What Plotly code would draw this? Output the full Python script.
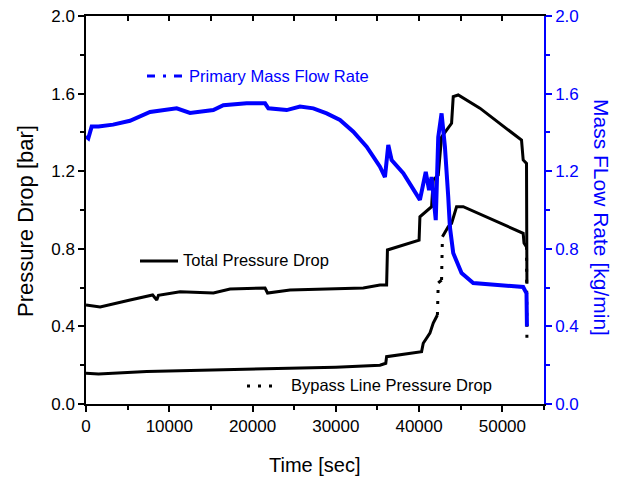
import plotly.graph_objects as go

# ---------------- data ----------------
flow_t = [0, 280, 680, 1500, 3250, 5280, 7690, 10890, 12490, 15290, 16490, 19290,
          21500, 21900, 24100, 25700, 27300, 28900, 30500, 32100, 33700, 35300,
          35900, 36300, 36700, 38100, 40100, 40800, 41200, 41500, 42000, 42300,
          42700, 43100, 43500, 43700, 44100, 45100, 46500, 50000, 52500, 52900, 52950]
flow_q = [1.38, 1.37, 1.43, 1.43, 1.44, 1.46, 1.505, 1.524, 1.50, 1.515, 1.54, 1.55,
          1.55, 1.524, 1.515, 1.533, 1.524, 1.498, 1.464, 1.404, 1.326, 1.223,
          1.17, 1.335, 1.258, 1.19, 1.052, 1.196, 1.103, 1.17, 0.948, 1.376,
          1.498, 1.326, 1.068, 0.912, 0.778, 0.675, 0.624, 0.61, 0.603, 0.57, 0.40]

total_t = [0, 1700, 5300, 8000, 8500, 8700, 11300, 15300, 17300, 21500, 21800,
           24500, 33300, 35300, 36100, 36200, 40000, 40100, 41500, 41700, 42300,
           42700, 43300, 43900, 44100, 44700, 47300, 52300, 52500, 52900, 52950]
total_p = [0.51, 0.50, 0.536, 0.562, 0.536, 0.56, 0.579, 0.572, 0.593, 0.598, 0.572,
           0.588, 0.598, 0.613, 0.613, 0.794, 0.845, 0.965, 1.017, 1.155, 1.18,
           1.376, 1.412, 1.447, 1.584, 1.593, 1.525, 1.36, 1.258, 1.24, 0.62]

bypass_t = [0, 1500, 7300, 15300, 23300, 30000, 35300, 36000, 36100, 40300, 40500,
            41300, 41700, 42200, 42300, 42700, 42800, 43500, 43900, 44500, 45300,
            52500, 52600, 52900, 52950]
bypass_p = [0.158, 0.155, 0.167, 0.175, 0.186, 0.19, 0.20, 0.21, 0.244, 0.27, 0.313,
            0.365, 0.417, 0.459, 0.624, 0.639, 0.862, 0.914, 0.931, 1.017, 1.017,
            0.88, 0.83, 0.81, 0.31]
# segments (index i -> i+1) where recorded points are sparse and appear dotted
bypass_sparse = [13, 15, 23]

x_ticks = [0, 10000, 20000, 30000, 40000, 50000]
x_ticktext = ["0", "10000", "20000", "30000", "40000", "50000"]
y_ticks = [0.0, 0.4, 0.8, 1.2, 1.6, 2.0]
y_ticktext = ["0.0", "0.4", "0.8", "1.2", "1.6", "2.0"]

BLUE = "#0000FF"
FONT = "Liberation Sans, Arial, sans-serif"

# ---------------- geometry helpers (pixels -> paper) ----------------
L, R, T, B = 86, 544, 16, 404
W, H = 622, 482
def px(xp):
    return (xp - L) / (R - L)
def py(yp):
    return (B - yp) / (B - T)

# build bypass solid / dotted pieces from the same arrays
bs_x, bs_y = [], []
for i in range(len(bypass_t)):
    if (i - 1) in bypass_sparse:
        bs_x.append(None); bs_y.append(None)
    bs_x.append(bypass_t[i]); bs_y.append(bypass_p[i])
bd_x, bd_y = [], []
for j in bypass_sparse:
    bd_x += [bypass_t[j], bypass_t[j + 1], None]
    bd_y += [bypass_p[j], bypass_p[j + 1], None]

fig = go.Figure()
fig.add_trace(go.Scatter(x=total_t, y=total_p, mode="lines",
                         line=dict(color="black", width=3), showlegend=False,
                         name="Total Pressure Drop"))
fig.add_trace(go.Scatter(x=bs_x, y=bs_y, mode="lines",
                         line=dict(color="black", width=3), showlegend=False,
                         name="Bypass Line Pressure Drop"))
fig.add_trace(go.Scatter(x=bd_x, y=bd_y, mode="lines",
                         line=dict(color="black", width=3, dash="3px,8px"),
                         showlegend=False, hoverinfo="skip"))
fig.add_trace(go.Scatter(x=flow_t, y=flow_q, mode="lines", yaxis="y2",
                         line=dict(color=BLUE, width=4), showlegend=False,
                         name="Primary Mass Flow Rate"))
# carrier for the inward top ticks
fig.add_trace(go.Scatter(x=[None], y=[None], xaxis="x2", mode="lines",
                         showlegend=False, hoverinfo="skip"))

tickfont = dict(family=FONT, size=17, color="black")
fig.update_layout(
    width=W, height=H,
    margin=dict(l=L, r=W - R, t=T, b=H - B, pad=0, autoexpand=False),
    paper_bgcolor="white", plot_bgcolor="white",
    font=dict(family=FONT),
    xaxis=dict(range=[0, 55000], tickvals=x_ticks, ticktext=x_ticktext,
               ticks="outside", ticklen=6, automargin=False,
               tickwidth=1.5, tickcolor="black",
               minor=dict(ticks="outside", ticklen=4, dtick=5000, tick0=0,
                          tickcolor="black", tickwidth=1.5),
               showline=True, linecolor="black", linewidth=1.5, mirror=True,
               showgrid=False, zeroline=False, tickfont=tickfont),
    xaxis2=dict(range=[0, 55000], overlaying="x", side="top", ticks="inside",
                dtick=5000, tick0=0, ticklen=5, tickwidth=1.5, tickcolor="black",
                automargin=False,
                showticklabels=False, showline=False, showgrid=False, zeroline=False),
    yaxis=dict(range=[0, 2], tickvals=y_ticks, ticktext=y_ticktext, ticks="outside",
               ticklen=6, tickwidth=1.5, tickcolor="black", automargin=False,
               minor=dict(ticks="outside", ticklen=4, dtick=0.2, tick0=0,
                          tickcolor="black", tickwidth=1.5),
               showline=True, linecolor="black", linewidth=1.5,
               showgrid=False, zeroline=False, tickfont=tickfont),
    yaxis2=dict(range=[0, 2], overlaying="y", side="right", tickvals=y_ticks,
                ticktext=y_ticktext, ticks="outside", ticklen=6, tickwidth=1.5,
                tickcolor=BLUE, automargin=False,
                minor=dict(ticks="outside", ticklen=4, dtick=0.2, tick0=0,
                           tickcolor=BLUE, tickwidth=1.5),
                showline=True, linecolor=BLUE, linewidth=1.5,
                showgrid=False, zeroline=False,
                tickfont=dict(family=FONT, size=17, color=BLUE)),
)

ann = []
ann.append(dict(text="Time [sec]", x=px(315), y=py(465), xref="paper", yref="paper",
                showarrow=False, xanchor="center", yanchor="middle",
                font=dict(family=FONT, size=20, color="black")))
ann.append(dict(text="Pressure Drop [bar]", x=px(25), y=py(221), xref="paper",
                yref="paper", showarrow=False, textangle=-90, xanchor="center",
                yanchor="middle", font=dict(family=FONT, size=22, color="black")))
ann.append(dict(text="Mass FLow Rate [kg/min]", x=px(601), y=py(217), xref="paper",
                yref="paper", showarrow=False, textangle=90, xanchor="center",
                yanchor="middle", font=dict(family=FONT, size=21, color=BLUE)))
ann.append(dict(text="Primary Mass Flow Rate", x=px(188), y=py(76), xref="paper",
                yref="paper", showarrow=False, xanchor="left", yanchor="middle",
                font=dict(family=FONT, size=16.5, color=BLUE)))
ann.append(dict(text="Total Pressure Drop", x=px(182), y=py(260), xref="paper",
                yref="paper", showarrow=False, xanchor="left", yanchor="middle",
                font=dict(family=FONT, size=16.5, color="black")))
ann.append(dict(text="Bypass Line Pressure Drop", x=px(290), y=py(385), xref="paper",
                yref="paper", showarrow=False, xanchor="left", yanchor="middle",
                font=dict(family=FONT, size=16.5, color="black")))
for a in ann:
    a["borderpad"] = 0
fig.update_layout(annotations=ann)

shapes = [
    dict(type="line", xref="paper", yref="paper", x0=px(147), x1=px(186),
         y0=py(76), y1=py(76), line=dict(color=BLUE, width=3, dash="8px,8px,3px,8px")),
    dict(type="line", xref="paper", yref="paper", x0=px(140), x1=px(178),
         y0=py(261), y1=py(261), line=dict(color="black", width=3)),
    dict(type="line", xref="paper", yref="paper", x0=px(247), x1=px(279),
         y0=py(386), y1=py(386), line=dict(color="black", width=3, dash="3px,8px")),
]
fig.update_layout(shapes=shapes)

fig.write_html("out.html", config={"displayModeBar": False},
               post_script="document.body.style.margin='0';"
                           "document.body.style.padding='0';")
